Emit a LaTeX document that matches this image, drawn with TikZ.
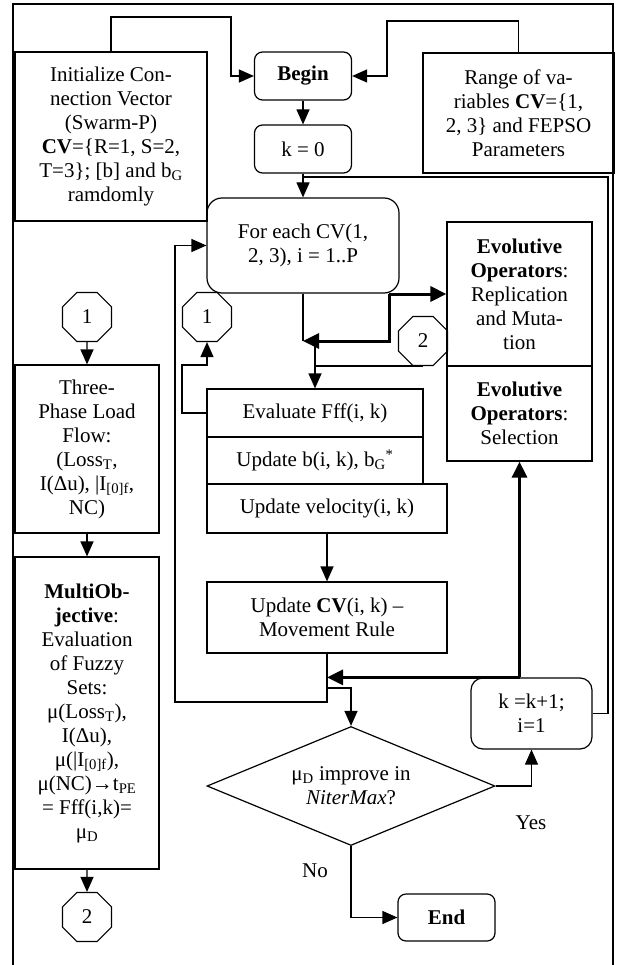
\documentclass[tikz,border=0pt]{standalone}
\usepackage{fontspec}
\setmainfont{Liberation Serif}
\usetikzlibrary{arrows.meta,shapes.geometric}
\begin{document}
\begin{tikzpicture}[x=1pt,y=-1pt,
  line width=1.2pt,
  font=\fontsize{21}{24}\selectfont,
  box/.style={draw, rectangle, inner sep=0pt, align=center, line width=1.2pt},
  rbox/.style={box, rounded corners=8pt},
  oct/.style={draw, regular polygon, regular polygon sides=8, minimum size=53pt, inner sep=0pt},
  arr/.style={-{Triangle[length=15pt,width=13pt]}},
  tarr/.style={line width=3pt,-{Triangle[length=16pt,width=15pt]}},
  lbl/.style={inner sep=0pt}
]
\useasboundingbox (0,0) rectangle (616,965);
% outer frame
\draw (13,965) -- (13,4) -- (613,4) -- (613,965);

% nodes
\node[rbox, minimum width=97pt, minimum height=48pt] (begin) at (303,76) {\textbf{Begin}};
\node[rbox, minimum width=97pt, minimum height=48pt] (k0) at (303,149) {k = 0};
\node[box, minimum width=192pt, minimum height=169pt] (init) at (111,136.5)
  {Initialize Con-\\nection Vector\\(Swarm-P)\\\textbf{CV}=\{R=1, S=2,\\T=3\}; [b] and b\textsubscript{G}\\ramdomly};
\node[box, minimum width=191pt, minimum height=120pt] (range) at (518.5,113)
  {Range of va-\\riables \textbf{CV}=\{1,\\2, 3\} and FEPSO\\Parameters};
\node[box, rounded corners=15pt, minimum width=192pt, minimum height=95pt] (foreach) at (303,245.5)
  {For each CV(1,\\2, 3), i = 1..P};
\node[box, minimum width=145pt, minimum height=144pt] (evol1) at (519.5,294)
  {\textbf{Evolutive}\\\textbf{Operators}:\\Replication\\and Muta-\\tion};
\node[box, minimum width=145pt, minimum height=95pt] (evol2) at (519.5,413.5)
  {\textbf{Evolutive}\\\textbf{Operators}:\\Selection};
\node[oct] (o1m) at (207,317) {1};
\node[oct] (o2r) at (423,341) {2};
\node[box, minimum width=216pt, minimum height=48pt] (evalf) at (315,413) {Evaluate Fff(i, k)};
\node[box, minimum width=216pt, minimum height=47pt] (updb) at (315,460.5) {Update b(i, k), b\textsubscript{G}\textsuperscript{*}};
\node[box, minimum width=240pt, minimum height=49pt] (updv) at (327,508.5) {Update velocity(i, k)};
\node[box, minimum width=240pt, minimum height=71pt] (updcv) at (327,617.5)
  {Update \textbf{CV}(i, k) \textendash\\Movement Rule};
\node[draw, diamond, aspect=2.4, minimum width=288pt, minimum height=119pt, inner sep=0pt, align=center] (dia) at (351,786)
  {μ\textsubscript{D} improve in\\\textit{NiterMax}?};
\node[rbox, rounded corners=12pt, minimum width=121pt, minimum height=71pt] (kk) at (531.5,713.5) {k =k+1;\\i=1};
\node[rbox, minimum width=97pt, minimum height=47pt] (end) at (446.5,917.5) {\textbf{End}};
\node[oct] (o1l) at (87,317) {1};
\node[box, minimum width=144pt, minimum height=168pt] (threep) at (87,449)
  {Three-\\Phase Load\\Flow:\\(Loss\textsubscript{T},\\I(Δu), |I\textsubscript{[0]f},\\NC)};
\node[box, minimum width=144pt, minimum height=312pt] (multi) at (87,713)
  {\textbf{MultiOb-}\\\textbf{jective}:\\Evaluation\\of Fuzzy\\Sets:\\μ(Loss\textsubscript{T}),\\I(Δu),\\μ(|I\textsubscript{[0]f}),\\μ(NC)→t\textsubscript{PE}\\= Fff(i,k)=\\μ\textsubscript{D}};
\node[oct] (o2l) at (87,917) {2};
\node[lbl] (yes) at (531,823) {Yes};
\node[lbl] (no) at (315,871) {No};

% coordinates
\coordinate (jt) at (389,294);
\coordinate (m1) at (303,341);
\coordinate (m2) at (315,341);
\coordinate (lp) at (303,177);
\coordinate (br) at (327,688);
\coordinate (jb) at (evol2.south |- kk.north);

% connectors
\draw[arr] (init.north) |- (231,17) |- (begin.west);
\draw[arr] (range.north) |- (387,21) |- (begin.east);
\draw[arr] (begin.south) -- (k0.north);
\draw[arr] (k0.south) -- (foreach.north);
\draw (kk.east) -| (608,177) -- (lp);
\draw[arr] (updcv.south) |- (175,702) |- (foreach.west);
\draw[arr] (br) -| (dia.north);
\draw[tarr] (jb) -- (evol2.south);
\draw[tarr] (jb) -- (updcv.south |- jb);
\draw[arr] (dia.east) -| (kk.south);
\draw[arr] (dia.south) |- (end.west);
\draw[tarr] (jt) -- (evol1.west);
\draw[tarr] (jt) |- (m1);
\draw (foreach.south) -- (m1);
\draw[arr] (m2) -- (evalf.north);
\draw (o2r.south) -- (m2 |- o2r.south);
\draw[arr] (evalf.west) -| (182,365) -| (o1m.south);
\draw[arr] (updv.south) -- (updcv.north);
\draw[arr] (o1l.south) -- (threep.north);
\draw[arr] (threep.south) -- (multi.north);
\draw[arr] (multi.south) -- (o2l.north);
\end{tikzpicture}
\end{document}
